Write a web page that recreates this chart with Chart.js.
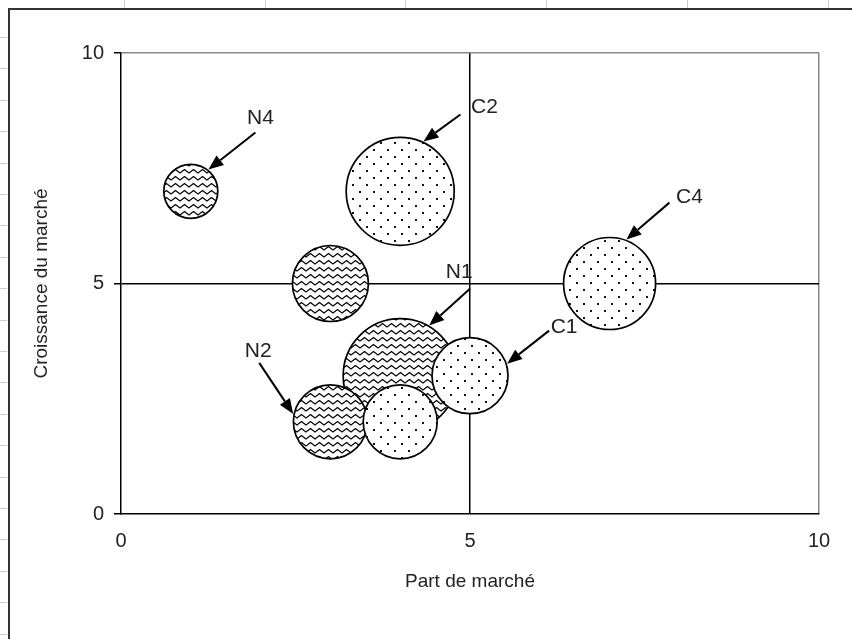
<!DOCTYPE html>
<html>
<head>
<meta charset="utf-8">
<script src="https://cdn.jsdelivr.net/npm/chart.js@4/dist/chart.umd.min.js"></script>
<style>
  html,body{margin:0;padding:0;background:#fff;}
  #wrap{width:852px;height:639px;position:relative;}
</style>
</head>
<body>
<div id="wrap"><canvas id="chart" width="852" height="639"></canvas></div>
<script>
// ======= Data =======
const labels = ['N4', 'C2', '', 'C4', 'N1', 'N2', '', 'C1'];
const kinds  = ['N',  'C',  'N', 'C', 'N',  'N',  'C', 'C'];
const xs     = [1, 4, 3, 7, 4, 3, 4, 5];   // Part de marché
const ys     = [7, 7, 5, 5, 3, 2, 2, 3];   // Croissance du marché
const sizes  = [27, 54, 38, 46, 57, 37, 37, 38];
const xTicks = [0, 5, 10];
const yTicks = [0, 5, 10];

// callout placement: angle on the bubble edge, arrow tail from tip, label from tail
const callouts = {
  N4: {ang: -51, tail: [47, -37], text: [5, -14]},
  C2: {ang: -65, tail: [37, -27], text: [24, -7]},
  C4: {ang: -69, tail: [43, -37], text: [20, -5]},
  N1: {ang: -60, tail: [41, -37], text: [-11, -16]},
  C1: {ang: -18, tail: [42, -33], text: [15, -3]},
  N2: {ang: -168, tail: [-34, -51], text: [-1, -12]}
};

// ======= Fill patterns =======
function wavePattern(){
  const c=document.createElement('canvas'); c.width=9; c.height=7;
  const g=c.getContext('2d');
  g.fillStyle='#fff'; g.fillRect(0,0,9,7);
  g.strokeStyle='#000'; g.lineWidth=1.3;
  g.beginPath();
  g.moveTo(-2.25,3); g.lineTo(0,5); g.lineTo(4.5,1.5); g.lineTo(9,5); g.lineTo(11.25,3);
  g.stroke();
  return c.getContext('2d').createPattern(c,'repeat');
}
function dotPattern(){
  const c=document.createElement('canvas'); c.width=14; c.height=14;
  const g=c.getContext('2d');
  g.fillStyle='#fff'; g.fillRect(0,0,14,14);
  g.fillStyle='#111';
  g.fillRect(2,2,2,2); g.fillRect(9,9,2,2);
  return c.getContext('2d').createPattern(c,'repeat');
}
const fills={N:wavePattern(), C:dotPattern()};

// ======= Plugins =======
const sheetFrame={
  id:'sheetFrame',
  beforeDraw(chart){
    const ctx=chart.ctx;
    ctx.save();
    ctx.fillStyle='#fff'; ctx.fillRect(0,0,chart.width,chart.height);
    ctx.strokeStyle='#ccc'; ctx.lineWidth=1;
    [124,265,405,546,687,828].forEach(x=>{ctx.beginPath();ctx.moveTo(x+.5,0);ctx.lineTo(x+.5,8);ctx.stroke();});
    for(let y=37;y<chart.height;y+=31.4){ctx.beginPath();ctx.moveTo(0,Math.round(y)+.5);ctx.lineTo(7,Math.round(y)+.5);ctx.stroke();}
    ctx.strokeStyle='#333'; ctx.lineWidth=2;
    ctx.beginPath(); ctx.moveTo(9,chart.height); ctx.lineTo(9,9); ctx.lineTo(chart.width,9); ctx.stroke();
    ctx.restore();
  }
};

const arrows={
  id:'arrows',
  afterDatasetsDraw(chart){
    const ctx=chart.ctx;
    const pts=chart.getDatasetMeta(0).data;
    ctx.save();
    ctx.strokeStyle='#000'; ctx.fillStyle='#000'; ctx.lineWidth=2;
    ctx.font="21px 'Liberation Sans', Arial, sans-serif";
    ctx.textAlign='center'; ctx.textBaseline='middle';
    labels.forEach((lab,i)=>{
      const co=callouts[lab]; if(!co) return;
      const p=pts[i], a=co.ang*Math.PI/180;
      const tx=p.x+Math.cos(a)*(sizes[i]+1), ty=p.y+Math.sin(a)*(sizes[i]+1);
      const sx=tx+co.tail[0], sy=ty+co.tail[1];
      const dir=Math.atan2(ty-sy,tx-sx), L=15, W=6;
      const bx=tx-Math.cos(dir)*L, by=ty-Math.sin(dir)*L;
      ctx.beginPath(); ctx.moveTo(sx,sy); ctx.lineTo(bx,by); ctx.stroke();
      ctx.beginPath();
      ctx.moveTo(tx,ty);
      ctx.lineTo(bx+Math.sin(dir)*W, by-Math.cos(dir)*W);
      ctx.lineTo(bx-Math.sin(dir)*W, by+Math.cos(dir)*W);
      ctx.closePath(); ctx.fill();
      ctx.fillStyle='#222';
      ctx.fillText(lab, sx+co.text[0], sy+co.text[1]);
      ctx.fillStyle='#000';
    });
    ctx.restore();
  }
};

// ======= Chart =======
Chart.defaults.font.family="'Liberation Sans', Arial, sans-serif";
Chart.defaults.color='#222';

function gridColor(c){
  const v=c.tick && c.tick.value;
  if(v===5) return '#000';
  if(v===10) return '#888';
  return 'rgba(0,0,0,0)';
}

new Chart(document.getElementById('chart'),{
  type:'bubble',
  data:{
    datasets:[{
      data:xs.map((x,i)=>({x:x,y:ys[i],r:sizes[i]})),
      backgroundColor:kinds.map(k=>fills[k]),
      borderColor:'#000',
      borderWidth:1.7,
      hoverRadius:0
    }]
  },
  options:{
    responsive:false,
    animation:false,
    events:[],
    layout:{autoPadding:false,padding:{left:0,top:53,right:33,bottom:0}},
    plugins:{legend:{display:false},tooltip:{enabled:false}},
    scales:{
      x:{
        type:'linear',min:0,max:10,
        afterBuildTicks:s=>{s.ticks=xTicks.map(v=>({value:v}));},
        afterFit:s=>{s.height=125;},
        ticks:{font:{size:20},padding:15,color:'#222'},
        grid:{color:gridColor,lineWidth:1.5,drawTicks:false},
        border:{color:'#000',width:1.5},
        title:{display:true,text:'Part de marché',font:{size:19},color:'#222',padding:{top:0,bottom:46}}
      },
      y:{
        type:'linear',min:0,max:10,
        afterBuildTicks:s=>{s.ticks=yTicks.map(v=>({value:v}));},
        afterFit:s=>{s.width=121;},
        ticks:{font:{size:20},padding:10,color:'#222'},
        grid:{color:gridColor,lineWidth:1.5,drawTicks:true,tickLength:7,tickColor:'#000'},
        border:{color:'#000',width:1.5},
        title:{display:true,text:'Croissance du marché',font:{size:19},color:'#222',padding:{top:30,bottom:0}}
      }
    }
  },
  plugins:[sheetFrame,arrows]
});
</script>
</body>
</html>
